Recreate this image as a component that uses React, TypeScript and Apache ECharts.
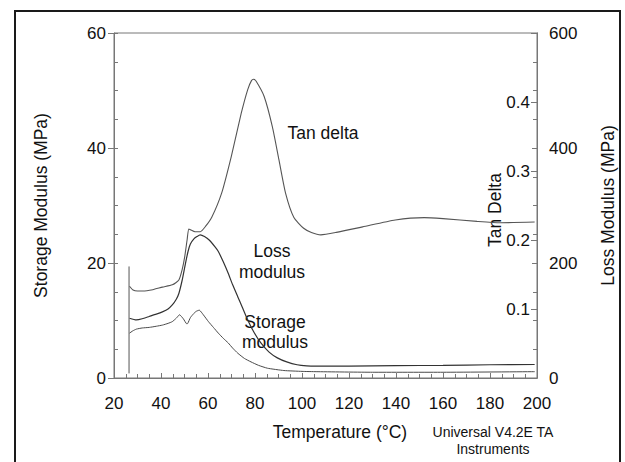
import React, { useEffect, useRef } from "react";
import * as echarts from "echarts";

// Temperature (°C), Tan delta
const tanDelta: [number, number][] = [
  [26.6, 0.133], [28.1, 0.1275], [30, 0.126], [32.3, 0.126], [36.5, 0.128], [40.6, 0.1317],
  [44.8, 0.135], [47.6, 0.142], [49.0, 0.157], [50.1, 0.176], [51.1, 0.2], [51.8, 0.216],
  [52.5, 0.215], [54.5, 0.212], [56.7, 0.212], [59, 0.22], [61.6, 0.233], [65.8, 0.268],
  [69.9, 0.321], [74.1, 0.383], [76.9, 0.418], [78.5, 0.431], [79.4, 0.433], [80.5, 0.43],
  [83.9, 0.408], [87.4, 0.364], [90.2, 0.316], [93.0, 0.268], [96.5, 0.233], [100.7, 0.217],
  [104, 0.211], [108, 0.2075], [114.6, 0.211], [125.8, 0.219], [139.7, 0.229], [152, 0.2325],
  [160, 0.231], [174.5, 0.227], [184.4, 0.225], [199, 0.226],
];

// Temperature (°C), Loss modulus (MPa)
const lossModulus: [number, number][] = [
  [26.6, 104], [29.5, 101], [32, 103], [35, 107], [38, 111], [40.6, 115], [43, 120], [44.8, 127],
  [46.5, 137], [47.6, 147], [49, 170], [50.4, 199], [51.5, 220], [52.5, 233], [54, 242],
  [55.3, 246], [56.7, 249], [58.5, 246], [60.5, 240], [63, 228], [64.4, 220], [66.5, 202],
  [68.6, 182], [70.5, 162], [72.7, 141], [74.5, 124], [76.9, 101], [79.5, 80], [82.5, 61],
  [86, 45], [89.5, 35], [93.5, 28], [97.9, 23], [102, 21], [106, 20.5], [120, 20.5],
  [140, 21.5], [160, 22], [180, 23], [199, 23.5],
];

// Temperature (°C), Storage modulus (MPa)
const storageModulus: [number, number][] = [
  [26.6, 7.8], [28, 8.2], [29.5, 8.5], [32, 8.7], [35, 8.8], [38, 9.0], [40.6, 9.2], [43, 9.5],
  [44.8, 9.8], [46.5, 10.4], [47.9, 11.0], [49.5, 10.3], [51.0, 9.4], [51.4, 9.5], [52.5, 10.5],
  [53.9, 11.2], [55, 11.6], [56.3, 11.8], [58, 11.0], [60.2, 9.8], [62.3, 8.8], [64.4, 7.8],
  [66.5, 6.9], [68.6, 6.1], [70.5, 5.2], [72.7, 4.3], [75.5, 3.4], [78.3, 2.8], [81.5, 2.2],
  [85.3, 1.7], [92.3, 1.3], [100, 1.15], [106, 1.1], [130, 1.0], [160, 1.0], [199, 1.1],
];

// Start-of-run transient (vertical trace), storage axis
const startTransient: [number, number][] = [[26.4, 0.8], [26.4, 19.4]];

const xTicks = { min: 20, max: 200, interval: 20 };
const storageTicks = { min: 0, max: 60, interval: 20 };
const tanTicks = { min: 0, max: 0.5, interval: 0.1 };
const lossTicks = { min: 0, max: 600, interval: 200 };

const FONT = "Liberation Sans, Arial, sans-serif";
const AXIS = "#777";
const LINE = "#4a4a4a";
const TXT = "#111";

export default function App() {
  const ref = useRef<HTMLDivElement>(null);
  useEffect(() => {
    document.body.style.margin = "0";
    const chart = echarts.init(ref.current!, undefined, { renderer: "svg" });
    const lab = { color: TXT, fontSize: 17, fontFamily: FONT };
    const txt = (text: string, x: number, y: number, size = 17.5, rotation = 0) => ({
      type: "text",
      x,
      y,
      rotation,
      style: { text, font: `${size}px ${FONT}`, fill: TXT, textAlign: "center", textVerticalAlign: "middle" },
    });
    chart.setOption({
      animation: false,
      backgroundColor: "#fff",
      grid: { left: 114, right: 81, top: 33, bottom: 84, show: true, borderColor: AXIS, borderWidth: 1 },
      xAxis: {
        type: "value",
        ...xTicks,
        axisLine: { show: true, lineStyle: { color: AXIS } },
        axisTick: { show: true, inside: true, length: 5, lineStyle: { color: AXIS } },
        minorTick: { show: true, splitNumber: 4, length: 4, lineStyle: { color: AXIS } },
        splitLine: { show: false },
        axisLabel: { ...lab, margin: 17 },
      },
      yAxis: [
        {
          type: "value",
          position: "left",
          ...storageTicks,
          name: "Storage Modulus (MPa)",
          nameLocation: "middle",
          nameRotate: 90,
          nameGap: 64,
          nameTextStyle: { ...lab, fontSize: 17.5 },
          axisLine: { show: true, lineStyle: { color: AXIS } },
          axisTick: { show: true, length: 6, lineStyle: { color: AXIS } },
          splitLine: { show: false },
          axisLabel: { ...lab, margin: 8 },
        },
        {
          type: "value",
          position: "right",
          ...tanTicks,
          axisLine: { show: true, lineStyle: { color: AXIS } },
          axisTick: { show: true, inside: true, length: 6, lineStyle: { color: AXIS } },
          splitLine: { show: false },
          axisLabel: {
            ...lab,
            inside: false,
            align: "right",
            margin: -7,
            formatter: (v: number) => (v === 0 || v >= 0.5 ? "" : v.toFixed(1)),
          },
        },
        {
          type: "value",
          position: "right",
          ...lossTicks,
          name: "Loss Modulus (MPa)",
          nameLocation: "middle",
          nameRotate: 90,
          nameGap: 62,
          nameTextStyle: { ...lab, fontSize: 17.5 },
          axisLine: { show: true, lineStyle: { color: AXIS } },
          axisTick: { show: true, inside: true, length: 5, lineStyle: { color: AXIS } },
          minorTick: { show: true, splitNumber: 4, length: 4, lineStyle: { color: AXIS } },
          splitLine: { show: false },
          axisLabel: { ...lab, margin: 12 },
        },
        {
          type: "value",
          position: "left",
          min: 0,
          max: 60,
          interval: 5,
          axisLine: { show: false },
          axisTick: { show: true, inside: true, length: 4, lineStyle: { color: AXIS } },
          axisLabel: { show: false },
          splitLine: { show: false },
        },
      ],
      series: [
        {
          name: "Tan delta",
          type: "line",
          yAxisIndex: 1,
          data: tanDelta,
          showSymbol: false,
          smooth: 0.2,
          lineStyle: { color: "#555", width: 1.1 },
        },
        {
          name: "Loss modulus",
          type: "line",
          yAxisIndex: 2,
          data: lossModulus,
          showSymbol: false,
          smooth: 0.2,
          lineStyle: { color: "#333", width: 1.2 },
        },
        {
          name: "Storage modulus",
          type: "line",
          yAxisIndex: 0,
          data: storageModulus,
          showSymbol: false,
          smooth: 0.15,
          lineStyle: { color: LINE, width: 1 },
        },
        {
          name: "Start",
          type: "line",
          yAxisIndex: 0,
          data: startTransient,
          showSymbol: false,
          lineStyle: { color: "#555", width: 1 },
        },
      ],
      graphic: [
        {
          type: "rect",
          shape: { x: 15, y: 11, width: 605, height: 470 },
          style: { fill: "none", stroke: "#1a1a1a", lineWidth: 2 },
          silent: true,
        },
        txt("Tan Delta", 495, 210, 17.5, Math.PI / 2),
        txt("Tan delta", 323, 133),
        txt("Loss", 272, 251),
        txt("modulus", 272, 272),
        txt("Storage", 275, 322),
        txt("modulus", 275, 342),
        txt("Temperature (°C)", 340, 432),
        txt("Universal V4.2E TA", 493, 432, 14),
        txt("Instruments", 493, 449, 14),
      ],
    });
    return () => chart.dispose();
  }, []);
  return <div ref={ref} style={{ width: 625, height: 462, overflow: "hidden" }} />;
}
